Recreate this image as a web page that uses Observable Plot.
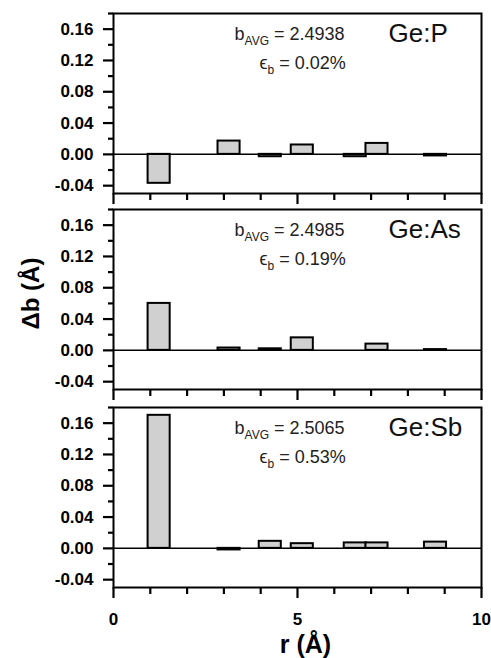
<!DOCTYPE html>
<html>
<head>
<meta charset="utf-8">
<script src="https://cdn.jsdelivr.net/npm/d3@7"></script>
<script src="https://cdn.jsdelivr.net/npm/@observablehq/plot@0.6"></script>
<style>
  body { margin: 0; background: #fff; }
  #chart { position: relative; width: 491px; height: 658px; overflow: hidden; background: #fff;
           font-family: "Liberation Sans", Arial, sans-serif; color: #000; }
  #chart svg { position: absolute; left: 0; }
</style>
</head>
<body>
<div id="chart"></div>
<script>
// ---- data ----
const rShell = [1.24, 3.14, 4.26, 5.13, 6.57, 7.16, 8.75];
const dbP  = [-0.037, 0.017, -0.003, 0.012, -0.003, 0.014, -0.002];
const dbAs = [0.060, 0.003, 0.002, 0.016, null, 0.008, 0.001];
const dbSb = [0.170, -0.002, 0.009, 0.006, 0.007, 0.007, 0.008];
const panelNames = ["Ge:P", "Ge:As", "Ge:Sb"];
const bAvg = ["2.4938", "2.4985", "2.5065"];
const epsB = ["0.02%", "0.19%", "0.53%"];
const yMajorTicks = [-0.04, 0, 0.04, 0.08, 0.12, 0.16];
const yMinorTicks = [-0.02, 0.02, 0.06, 0.10, 0.14, 0.18];
const xMajorTicks = [0, 5, 10];
const xMinorTicks = [1, 2, 3, 4, 6, 7, 8, 9];
const xLabel = "r (Å)";
const yLabel = "Δb (Å)";
const series = [dbP, dbAs, dbSb];

const FONT = '"Liberation Sans", Arial, sans-serif';
const barWidth = 0.6;
const panelTops = [0, 196, 394];

function applySubscripts(svg) {
  d3.select(svg).selectAll("text").each(function () {
    const t = this.textContent;
    if (!t.includes("_{")) return;
    const parts = t.split(/_\{([^}]*)\}/);
    const sel = d3.select(this);
    sel.text(null);
    let shifted = false;
    parts.forEach((p, k) => {
      if (p === "") return;
      const ts = sel.append("tspan").text(p);
      if (k % 2 === 1) {
        ts.attr("font-size", 12).attr("dy", 5);
        shifted = true;
      } else if (shifted) {
        ts.attr("dy", -5);
        shifted = false;
      }
    });
  });
}

function panel(i) {
  const isLast = i === 2;
  const data = rShell.map((r, k) => ({r, db: series[i][k]})).filter(d => d.db != null);
  const marks = [
    Plot.rectY(data, {x1: d => d.r - barWidth / 2, x2: d => d.r + barWidth / 2, y1: 0, y2: "db",
      fill: "#d0d0d0", stroke: "#000", strokeWidth: 2}),
    Plot.ruleY([0], {stroke: "#000", strokeWidth: 1.5}),
    Plot.axisY(yMajorTicks, {tickSize: 10, tickPadding: 10, tickFormat: d => d.toFixed(2),
      stroke: "#000", strokeWidth: 2.2, fill: "#000", fontSize: 17, fontWeight: "bold", label: null}),
    Plot.axisY(yMinorTicks, {tickSize: 5, tickFormat: () => "", stroke: "#000", strokeWidth: 2.2, label: null}),
    Plot.axisX(xMajorTicks, {tickSize: 11, tickPadding: 14, tickFormat: isLast ? d => String(d) : () => "",
      stroke: "#000", strokeWidth: 2.2, fill: "#000", fontSize: 17, fontWeight: "bold", label: null}),
    Plot.axisX(xMinorTicks, {tickSize: 7, tickFormat: () => "", stroke: "#000", strokeWidth: 2.2, label: null}),
    Plot.frame({stroke: "#000", strokeWidth: 2}),
    Plot.text([`b_{AVG} = ${bAvg[i]}`], {frameAnchor: "top-left", dx: 121, dy: 26, lineAnchor: "bottom",
      textAnchor: "start", fontSize: 18, fill: "#222"}),
    Plot.text([`ϵ_{b} = ${epsB[i]}`], {frameAnchor: "top-left", dx: 146, dy: 55, lineAnchor: "bottom",
      textAnchor: "start", fontSize: 18, fill: "#222"}),
    Plot.text([panelNames[i]], {frameAnchor: "top-left", dx: 275, dy: 28, lineAnchor: "bottom",
      textAnchor: "start", fontSize: 26, fill: "#111"})
  ];
  if (i === 1) {
    marks.push(Plot.text([yLabel], {frameAnchor: "left", dx: -82, dy: -6, rotate: -90,
      textAnchor: "middle", lineAnchor: "middle", fontSize: 24, fontWeight: "bold", fill: "#000"}));
  }
  if (isLast) {
    marks.push(Plot.text([xLabel], {frameAnchor: "bottom", dx: 8, dy: 65, lineAnchor: "bottom",
      textAnchor: "middle", fontSize: 25, fontWeight: "bold", fill: "#000"}));
  }
  const marginBottom = isLast ? 71 : 14;
  const svg = Plot.plot({
    width: 491,
    height: 13 + 180 + marginBottom,
    marginTop: 13,
    marginBottom,
    marginLeft: 113,
    marginRight: 10,
    style: {background: "transparent", overflow: "visible", fontFamily: FONT, color: "#000"},
    x: {domain: [0, 10]},
    y: {domain: [-0.05, 0.18]},
    marks
  });
  svg.style.top = panelTops[i] + "px";
  applySubscripts(svg);
  return svg;
}

const chart = document.getElementById("chart");
[0, 1, 2].forEach(i => chart.appendChild(panel(i)));
</script>
</body>
</html>
